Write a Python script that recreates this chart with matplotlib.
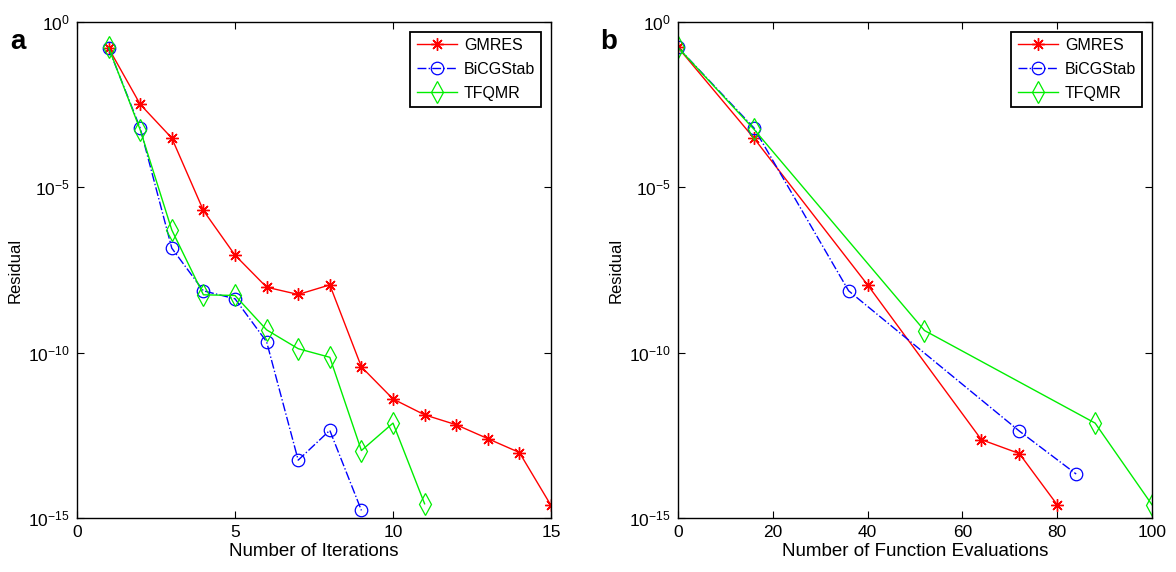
import numpy as np
import matplotlib.pyplot as plt

plt.rcParams['font.family'] = ['Liberation Sans', 'DejaVu Sans']
plt.rcParams['mathtext.fontset'] = 'custom'
plt.rcParams['mathtext.rm'] = 'Liberation Sans'
plt.rcParams['mathtext.it'] = 'Liberation Sans:italic'

# residual history vs iteration (log10 of residual)
gmres_it = [1, 2, 3, 4, 5, 6, 7, 8, 9, 10, 11, 12, 13, 14, 15]
gmres_res_it = [-0.79, -2.49, -3.51, -5.70, -7.05, -8.02, -8.24, -7.95,
                -10.43, -11.40, -11.88, -12.18, -12.60, -13.02, -14.62]
bicg_it = [1, 2, 3, 4, 5, 6, 7, 8, 9]
bicg_res_it = [-0.79, -3.21, -6.84, -8.13, -8.37, -9.67, -13.25, -12.35, -14.77]
tfqmr_it = [1, 2, 3, 4, 5, 6, 7, 8, 9, 10, 11]
tfqmr_res_it = [-0.77, -3.26, -6.29, -8.25, -8.27, -9.31, -9.88, -10.14,
                -12.96, -12.13, -14.57]

# residual history vs function evaluations
gmres_fe = [0, 16, 40, 64, 72, 80]
gmres_res_fe = [-0.77, -3.51, -7.95, -12.63, -13.05, -14.60]
bicg_fe = [0, 16, 36, 72, 84]
bicg_res_fe = [-0.77, -3.20, -8.13, -12.37, -13.67]
tfqmr_fe = [0, 16, 52, 88, 100]
tfqmr_res_fe = [-0.77, -3.24, -9.33, -12.13, -14.60]

methods = ['GMRES', 'BiCGStab', 'TFQMR']
styles = [
    dict(color='#ff0000', linestyle='-', marker=(8, 2, 0), markersize=9,
         markeredgewidth=1.0),
    dict(color='#0000ff', linestyle='-.', marker='o', markersize=9,
         markerfacecolor='none', markeredgewidth=0.9),
    dict(color='#00ee00', linestyle='-', marker='d', markersize=11,
         markerfacecolor='none', markeredgewidth=0.9),
]


def setup_axes(ax, xlim, xticks, xlabel):
    ax.set_yscale('log')
    ax.set_xlim(*xlim)
    ax.set_ylim(1e-15, 1e0)
    ax.set_xticks(xticks)
    ax.set_yticks([1e0, 1e-5, 1e-10, 1e-15])
    ax.yaxis.set_minor_locator(plt.NullLocator())
    ax.tick_params(direction='in', top=True, right=True, length=5,
                   width=0.8, labelsize=12.5, pad=5)
    for s in ax.spines.values():
        s.set_linewidth(1.0)
    ax.set_xlabel(xlabel, fontsize=13.5, labelpad=2)
    ax.set_ylabel('Residual', fontsize=12, labelpad=4)
    leg = ax.legend(loc='upper right', fontsize=11.5, fancybox=False,
                    framealpha=1, edgecolor='black', borderaxespad=0.6,
                    handlelength=2.5, labelspacing=0.55, borderpad=0.4,
                    handletextpad=0.45)
    leg.get_frame().set_linewidth(1.3)


fig = plt.figure(figsize=(11.76, 5.72), dpi=100)
ax1 = fig.add_axes([77 / 1176, 54 / 572, 474 / 1176, 496 / 572])
ax2 = fig.add_axes([678 / 1176, 54 / 572, 474 / 1176, 496 / 572])

for x, y, name, st in zip([gmres_it, bicg_it, tfqmr_it],
                          [gmres_res_it, bicg_res_it, tfqmr_res_it],
                          methods, styles):
    ax1.plot(x, 10.0 ** np.array(y), label=name, linewidth=1.0, **st)

for x, y, name, st in zip([gmres_fe, bicg_fe, tfqmr_fe],
                          [gmres_res_fe, bicg_res_fe, tfqmr_res_fe],
                          methods, styles):
    ax2.plot(x, 10.0 ** np.array(y), label=name, linewidth=1.0, **st)

setup_axes(ax1, (0, 15), [0, 5, 10, 15], 'Number of Iterations')
setup_axes(ax2, (0, 100), [0, 20, 40, 60, 80, 100],
           'Number of Function Evaluations')

fig.text(10 / 1176, 1 - 42 / 572, 'a', fontsize=20, fontweight='bold',
         va='center')
fig.text(600 / 1176, 1 - 42 / 572, 'b', fontsize=20, fontweight='bold',
         va='center')

fig.savefig('out.png', dpi=100)
